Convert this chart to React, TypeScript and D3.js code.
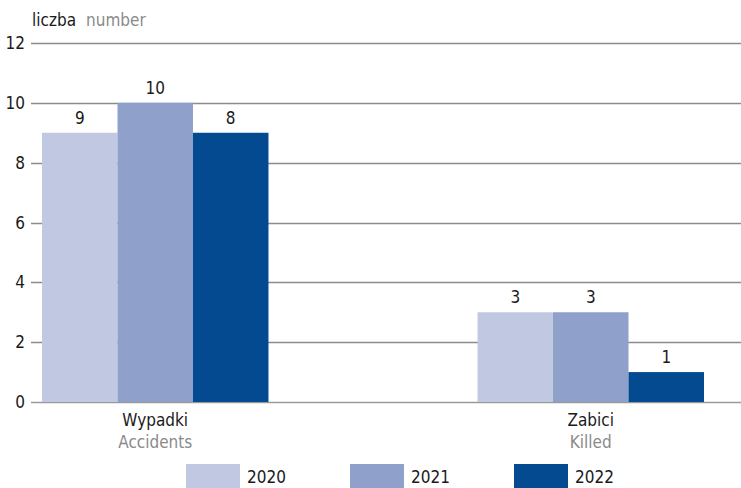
import { useEffect, useRef } from "react";
import * as d3 from "d3";

// ── Data ──────────────────────────────────────────────────────────────────────

const CATEGORIES_PL = ["Wypadki", "Zabici"];
const CATEGORIES_EN = ["Accidents", "Killed"];
const YEARS = ["2020", "2021", "2022"];

// bar heights as drawn in the picture
const VALUES_2020 = [9, 3];
const VALUES_2021 = [10, 3];
const VALUES_2022 = [9, 1];

// labels printed above the bars
const LABELS_2020 = ["9", "3"];
const LABELS_2021 = ["10", "3"];
const LABELS_2022 = ["8", "1"];

const Y_TICKS = [0, 2, 4, 6, 8, 10, 12];

// ── Config ────────────────────────────────────────────────────────────────────

const W = 741;
const H = 488;
const COLORS = ["#c1c9e2", "#8fa1ca", "#034a91"];
const FONT = "'Liberation Sans Narrow', 'DejaVu Sans Condensed', 'Open Sans', sans-serif";
const DARK = "#1a1a1a";
const GREY = "#8a8a8a";

const App = () => {
  const svgRef = useRef<SVGSVGElement>(null);

  useEffect(() => {
    if (!svgRef.current) return;
    const svg = d3.select(svgRef.current);
    svg.selectAll("*").remove();

    const series = [VALUES_2020, VALUES_2021, VALUES_2022];
    const labels = [LABELS_2020, LABELS_2021, LABELS_2022];

    const y = d3.scaleLinear().domain([0, 12]).range([402, 43]);

    const x0 = d3.scaleBand()
      .domain(CATEGORIES_PL)
      .range([42, 704])
      .paddingInner(0.48)
      .paddingOuter(0);

    const x1 = d3.scaleBand()
      .domain(YEARS)
      .range([0, x0.bandwidth()])
      .padding(0);

    // Grid lines
    svg.append("g")
      .selectAll("line")
      .data(Y_TICKS)
      .join("line")
      .attr("x1", 31)
      .attr("x2", W)
      .attr("y1", (d) => Math.round(y(d)) + 0.5)
      .attr("y2", (d) => Math.round(y(d)) + 0.5)
      .attr("stroke", (d) => (d === 0 ? "#9a9a9a" : "#8c8c8c"))
      .attr("stroke-width", 1.3);

    // Y tick labels
    svg.append("g")
      .selectAll("text")
      .data(Y_TICKS)
      .join("text")
      .attr("x", 25)
      .attr("y", (d) => y(d) + 6)
      .attr("text-anchor", "end")
      .attr("font-family", FONT)
      .attr("font-size", 17)
      .attr("fill", DARK)
      .text((d) => d);

    // Unit label
    const unit = svg.append("text")
      .attr("x", 32)
      .attr("y", 26)
      .attr("font-family", FONT)
      .attr("font-size", 17);
    unit.append("tspan").attr("fill", DARK).text("liczba");
    unit.append("tspan").attr("fill", GREY).attr("dx", 10).text("number");

    // Bars
    YEARS.forEach((year, i) => {
      const g = svg.append("g");
      g.selectAll("rect")
        .data(series[i])
        .join("rect")
        .attr("x", (_, j) => (x0(CATEGORIES_PL[j]) ?? 0) + (x1(year) ?? 0))
        .attr("y", (d) => y(d))
        .attr("width", x1.bandwidth())
        .attr("height", (d) => y(0) - y(d))
        .attr("fill", COLORS[i]);

      g.selectAll("text")
        .data(series[i])
        .join("text")
        .attr("x", (_, j) => (x0(CATEGORIES_PL[j]) ?? 0) + (x1(year) ?? 0) + x1.bandwidth() / 2)
        .attr("y", (d) => y(d) - 9)
        .attr("text-anchor", "middle")
        .attr("font-family", FONT)
        .attr("font-size", 17)
        .attr("fill", DARK)
        .text((_, j) => labels[i][j]);
    });

    // Category labels
    CATEGORIES_PL.forEach((cat, j) => {
      const cx = (x0(cat) ?? 0) + x0.bandwidth() / 2;
      svg.append("text")
        .attr("x", cx)
        .attr("y", 426)
        .attr("text-anchor", "middle")
        .attr("font-family", FONT)
        .attr("font-size", 17)
        .attr("fill", DARK)
        .text(cat);
      svg.append("text")
        .attr("x", cx)
        .attr("y", 448)
        .attr("text-anchor", "middle")
        .attr("font-family", FONT)
        .attr("font-size", 17)
        .attr("fill", GREY)
        .text(CATEGORIES_EN[j]);
    });

    // Legend
    const legendX = d3.scalePoint().domain(YEARS).range([186, 514]);
    const legend = svg.append("g");
    YEARS.forEach((year, i) => {
      const lx = legendX(year) ?? 0;
      legend.append("rect")
        .attr("x", lx)
        .attr("y", 464)
        .attr("width", 54)
        .attr("height", 24)
        .attr("fill", COLORS[i]);
      legend.append("text")
        .attr("x", lx + 61)
        .attr("y", 483)
        .attr("font-family", FONT)
        .attr("font-size", 17)
        .attr("fill", DARK)
        .text(year);
    });
  }, []);

  return (
    <svg
      ref={svgRef}
      width={W}
      height={H}
      style={{ position: "absolute", left: 0, top: 0, background: "#fff" }}
    />
  );
};

export default App;
